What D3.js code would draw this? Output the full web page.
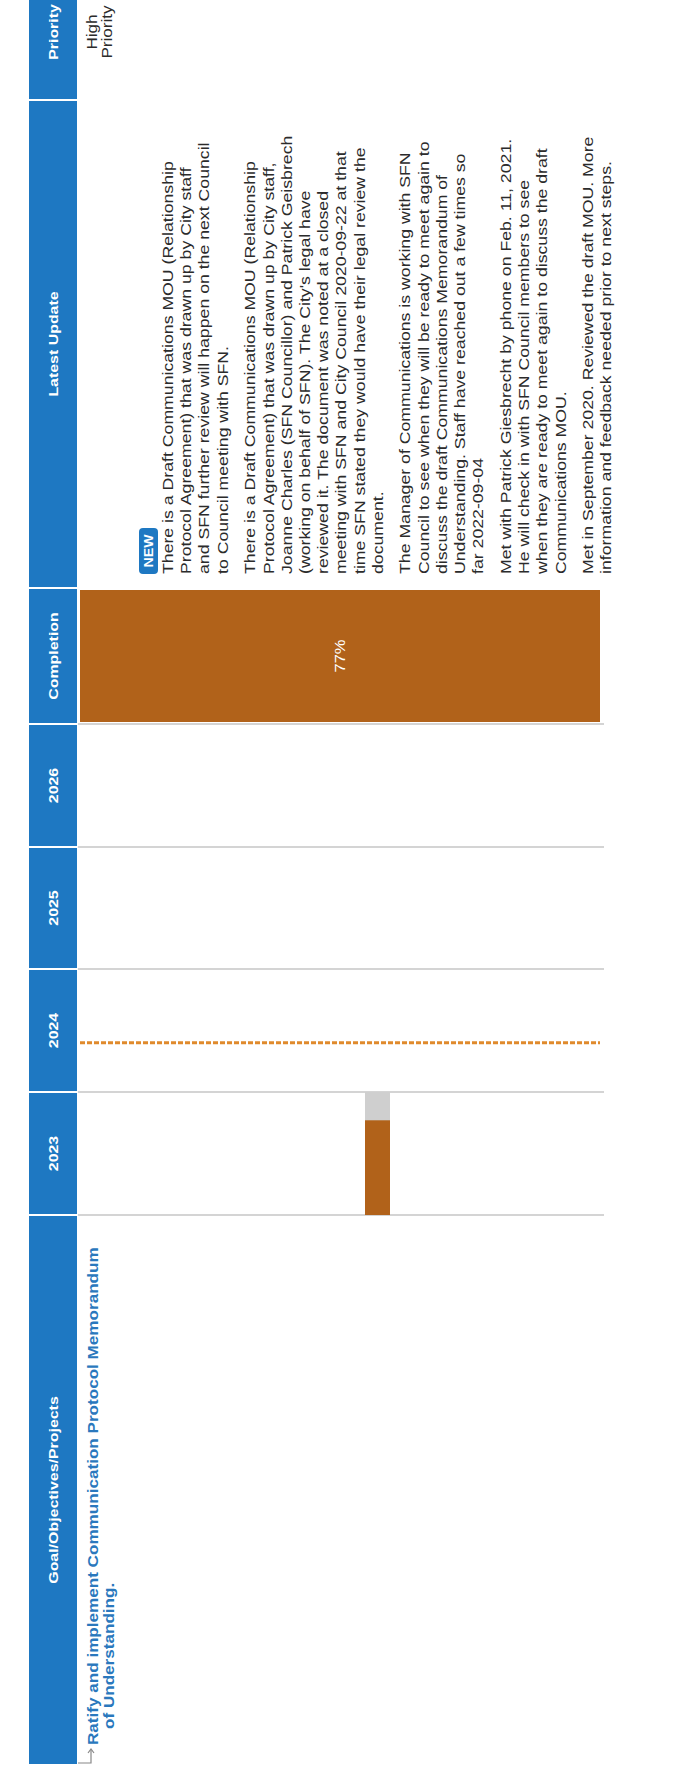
<!DOCTYPE html>
<html><head><meta charset="utf-8">
<script src="https://cdn.jsdelivr.net/npm/d3@7"></script>
<style>body{margin:0;background:#fff}svg{display:block}</style>
</head><body>
<svg id="chart" width="679" height="1775"></svg>
<script>
// ---------- data ----------
const columns = ["Goal/Objectives/Projects", "2023", "2024", "2025", "2026", "Completion", "Latest Update", "Priority"];
const years = [2023, 2024, 2025, 2026, 2027];
const goalLines = ["Ratify and implement Communication Protocol Memorandum", "of Understanding."];
const barStart = 2023;
const barEnd = 2024;
const completion = 0.77;
const todayYear = 2024.4;
const priorityLines = ["High", "Priority"];
const badge = "NEW";
const updates = [
  ["There is a Draft Communications MOU (Relationship",
   "Protocol Agreement) that was drawn up by City staff",
   "and SFN  further review will happen on the next Council",
   "to Council meeting with SFN."],
  ["There is a Draft Communications MOU (Relationship",
   "Protocol Agreement) that was drawn up by City staff,",
   "Joanne Charles (SFN Councillor) and Patrick Geisbrech",
   "(working on behalf of SFN).  The City's legal have",
   "reviewed it.  The document was noted at a closed",
   "meeting with SFN and City Council 2020-09-22 at that",
   "time SFN  stated they would have their legal review the",
   "document."],
  ["The Manager of Communications is working with SFN",
   "Council to see when they will be ready to meet again to",
   "discuss the draft Communications Memorandum of",
   "Understanding.  Staff have reached out a few times so",
   "far 2022-09-04"],
  ["Met with Patrick Giesbrecht  by phone on Feb. 11, 2021.",
   "He will check in with SFN Council members to see",
   "when they are ready to meet again to discuss the draft",
   "Communications MOU."],
  ["Met in September 2020. Reviewed the draft MOU. More",
   "information and feedback needed prior to next steps."]
];

// ---------- layout ----------
const W = 679, H = 1775;
const colEdgesPageY = [1765, 1215, 1092, 969, 847, 724, 588, 100, -36];
const edges = colEdgesPageY.map(y => H - y);
const headTop = 29, headBot = 77, rowTop = 78, rowBot = 604;
const BLUE = "#1e78c2", BROWN = "#b1621a", ORANGE = "#e08a2c", GRID = "#d4d4d4";
const FONT = "'Liberation Sans', Arial, sans-serif";
const SX = 1.18; // text is drawn stretched along the reading direction

const svg = d3.select("#chart");
const g = svg.append("g").attr("transform", `translate(0,${H}) rotate(-90)`);

function label(parent, x0, y0, txt, opts) {
  const t = parent.append("text")
    .attr("transform", `translate(${x0},${y0}) scale(${SX},1)`)
    .attr("font-family", FONT)
    .attr("font-size", opts.size || 15)
    .attr("fill", opts.fill || "#2b2b2b")
    .text(txt);
  if (opts.weight) t.attr("font-weight", opts.weight);
  if (opts.anchor) t.attr("text-anchor", opts.anchor);
  if (opts.central) t.attr("dominant-baseline", "central");
  return t;
}

const colScale = i => [edges[i], edges[i + 1]];
const x = d3.scaleLinear().domain(years).range(edges.slice(1, 6));

// header
const head = g.append("g");
columns.forEach((c, i) => {
  const [a, b] = colScale(i);
  head.append("rect").attr("x", a + 1).attr("y", headTop)
    .attr("width", b - a - 2).attr("height", headBot - headTop).attr("fill", BLUE);
  label(head, (a + b) / 2, (headTop + headBot) / 2, c,
    {size: 13.5, weight: "bold", fill: "#fff", anchor: "middle", central: true});
});

// grid lines at year boundaries
g.append("g").selectAll("line").data(years).join("line")
  .attr("x1", d => x(d)).attr("x2", d => x(d))
  .attr("y1", rowTop).attr("y2", rowBot)
  .attr("stroke", GRID).attr("stroke-width", 2);

// goal
const [ga] = colScale(0);
g.append("path").attr("d", `M${ga + 2},${rowTop} V${rowTop + 13} H${ga + 15}`)
  .attr("fill", "none").attr("stroke", "#888").attr("stroke-width", 1.2);
g.append("path").attr("d", `M${ga + 12},${rowTop + 10} L${ga + 16},${rowTop + 13} L${ga + 12},${rowTop + 16}`)
  .attr("fill", "none").attr("stroke", "#888").attr("stroke-width", 1.2);
const gg = g.append("g");
goalLines.forEach((d, i) => label(gg, ga + 20 + i * 16, rowTop + 20 + i * 16, d,
  {size: 14.5, weight: "bold", fill: "#2a78bd"}));

// bar
const barY = 365, barH = 25;
g.append("rect").attr("x", x(barStart)).attr("y", barY)
  .attr("width", x(barEnd) - x(barStart)).attr("height", barH).attr("fill", "#cfcfcf");
g.append("rect").attr("x", x(barStart)).attr("y", barY)
  .attr("width", x(barStart + (barEnd - barStart) * completion) - x(barStart)).attr("height", barH).attr("fill", BROWN);

// today marker
g.append("line").attr("x1", x(todayYear)).attr("x2", x(todayYear))
  .attr("y1", rowTop + 2).attr("y2", rowBot - 4)
  .attr("stroke", ORANGE).attr("stroke-width", 3).attr("stroke-dasharray", "5,2");

// completion cell
const [ca, cb] = colScale(5);
g.append("rect").attr("x", ca + 2).attr("y", rowTop + 2).attr("width", cb - ca - 4)
  .attr("height", rowBot - rowTop - 6).attr("fill", BROWN);
label(g, (ca + cb) / 2, 340, d3.format(".0%")(completion),
  {size: 14, fill: "#fff", anchor: "middle", central: true});

// latest update
const [ua] = colScale(6);
const tx = ua + 14;
const LH = 18.2, PG = 9.5;
const bb = g.append("g");
bb.append("rect").attr("x", tx).attr("y", 139).attr("width", 46).attr("height", 19).attr("rx", 4).attr("fill", BLUE);
label(bb, tx + 23, 148.5, badge, {size: 12, weight: "bold", fill: "#fff", anchor: "middle", central: true});
let yy = 173;
const ut = g.append("g");
updates.forEach(para => {
  para.forEach(line => { label(ut, tx, yy, line, {size: 15}); yy += LH; });
  yy += PG;
});

// priority
const [pa, pb] = colScale(7);
const pg = g.append("g");
priorityLines.forEach((d, i) => label(pg, (pa + pb) / 2, 97 + i * 15, d, {size: 14.5, anchor: "middle"}));
</script>
</body></html>
